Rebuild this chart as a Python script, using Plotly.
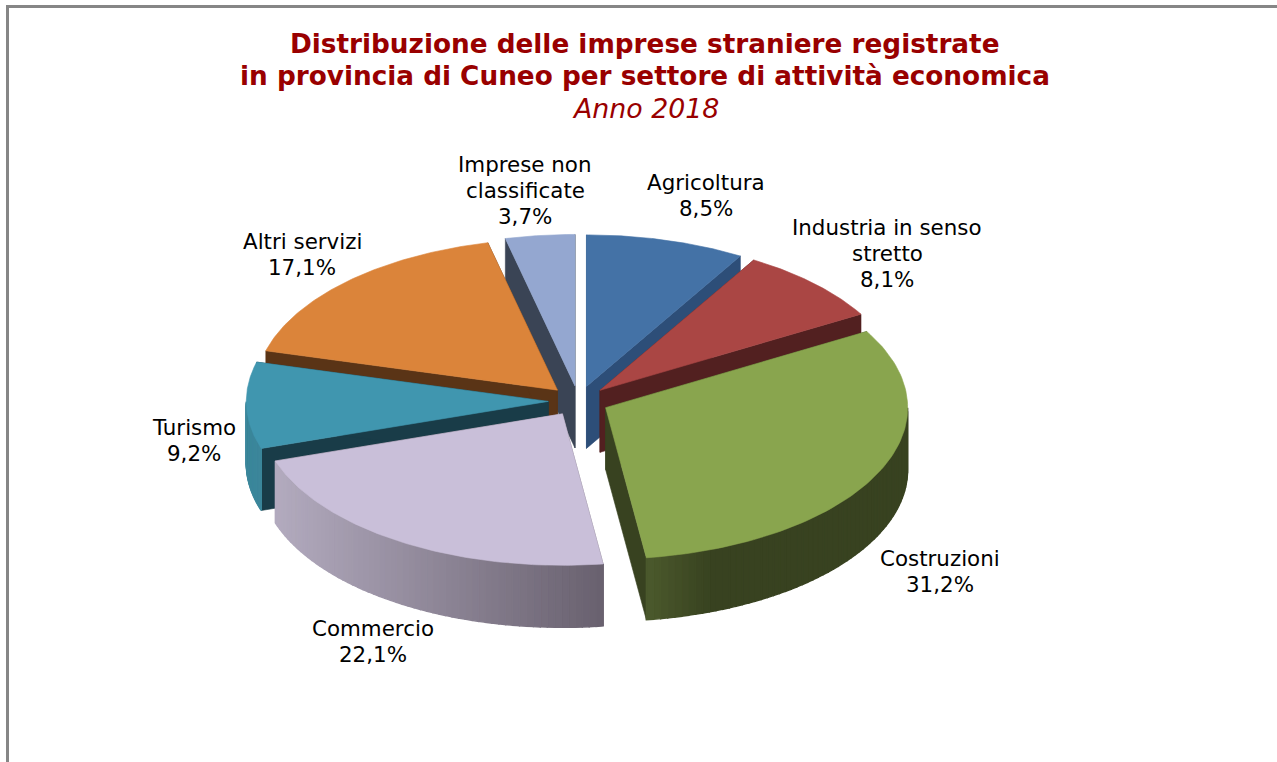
import numpy as np
import plotly.graph_objects as go

categories = ["Agricoltura", "Industria in senso stretto", "Costruzioni", "Commercio",
              "Turismo", "Altri servizi", "Imprese non classificate"]
values = [8.5, 8.1, 31.2, 22.1, 9.2, 17.1, 3.7]
top_colors = ["#4472A6", "#AA4644", "#89A54E", "#C9BFD9", "#4096AF", "#DB843A", "#94A7D0"]
wall_colors = ["#2D4E78", "#522020", "#384220", "#6E6672", "#193C48", "#5A3416", "#3A4455"]
rim_left = ["#2D4E78", "#522020", "#4C5A2D", "#B3ABBF", "#3C879B", "#5A3416", "#3A4455"]
rim_right = ["#2D4E78", "#522020", "#384220", "#69616F", "#3C879B", "#5A3416", "#3A4455"]
draw_order = [6, 0, 5, 1, 4, 2, 3]

CX, CY, A, B, DEPTH, EXPLODE = 578.5, 401, 302, 151.5, 62, 0.10

fractions = np.array(values) / sum(values)
edges = np.concatenate([[0], np.cumsum(fractions)]) * 2 * np.pi


def hex_rgb(h):
    return np.array([int(h[i:i + 2], 16) for i in (1, 3, 5)], dtype=float)


def poly(fig, xs, ys, color, name, width=0.6):
    fig.add_trace(go.Scatter(x=list(xs), y=list(ys), mode="lines", fill="toself",
                             fillcolor=color, line=dict(color=color, width=width),
                             hoverinfo="skip", name=name, showlegend=False))


fig = go.Figure()
for i in draw_order:
    t0, t1 = edges[i], edges[i + 1]
    mid = (t0 + t1) / 2
    ax = CX + EXPLODE * A * np.sin(mid)
    ay = CY - EXPLODE * B * np.cos(mid)
    th = np.linspace(t0, t1, 90)
    rx = ax + A * np.sin(th)
    ry = ay - B * np.cos(th)
    # radial walls
    for k in (0, -1):
        poly(fig, [ax, rx[k], rx[k], ax, ax], [ay, ry[k], ry[k] + DEPTH, ay + DEPTH, ay],
             wall_colors[i], categories[i])
    # outer wall, only where it faces the viewer
    lo, hi = max(t0, np.pi / 2), min(t1, 3 * np.pi / 2)
    if lo < hi:
        steps = 60
        tv = np.linspace(lo, hi, steps + 1)
        c_l, c_r = hex_rgb(rim_left[i]), hex_rgb(rim_right[i])
        px = ax + A * np.sin(tv)
        py = ay - B * np.cos(tv)
        xmin, xmax = px.min(), px.max()
        span = xmax - xmin
        for s in range(steps):
            u = ((px[s] + px[s + 1]) / 2 - xmin) / span
            if i == 2:  # the green wall fades quickly to its dark tone
                u = min(1.0, u * 4)
            c = c_l + (c_r - c_l) * u
            col = "rgb(%d,%d,%d)" % tuple(c)
            poly(fig, [px[s], px[s + 1], px[s + 1], px[s], px[s]],
                 [py[s], py[s + 1], py[s + 1] + DEPTH, py[s] + DEPTH, py[s]], col,
                 categories[i], width=1.4)
    # top face
    poly(fig, np.concatenate([[ax], rx, [ax]]), np.concatenate([[ay], ry, [ay]]),
         top_colors[i], categories[i])

label_lines = [["Agricoltura", "8,5%"], ["Industria in senso", "stretto", "8,1%"],
               ["Costruzioni", "31,2%"], ["Commercio", "22,1%"], ["Turismo", "9,2%"],
               ["Altri servizi", "17,1%"], ["Imprese non", "classificate", "3,7%"]]
label_x = [706, 887, 940, 373, 194, 302, 525]
label_y = [182, 227, 558, 628, 427, 241, 164]
LINE_STEP = 26
for lines, x, y in zip(label_lines, label_x, label_y):
    for n, t in enumerate(lines):
        fig.add_annotation(x=x, y=y + n * LINE_STEP, text=t, showarrow=False,
                           xanchor="center", yanchor="middle",
                           font=dict(family="DejaVu Sans", size=21.4, color="#000000"))

title_lines = ["<b>Distribuzione delle imprese straniere registrate</b>",
               "<b>in provincia di Cuneo per settore di attività economica</b>",
               "<i>Anno 2018</i>"]
title_y = [44, 76, 108]
title_size = [26.3, 26.3, 26.8]
for t, y, s in zip(title_lines, title_y, title_size):
    fig.add_annotation(x=645, y=y, text=t, showarrow=False, xanchor="center", yanchor="middle",
                       font=dict(family="DejaVu Sans", size=s, color="#990000"))

FRAME = "#868686"
fig.update_layout(
    margin=dict(l=0, r=0, t=0, b=0), paper_bgcolor="white", plot_bgcolor="white",
    showlegend=False,
    xaxis=dict(range=[0, 1277], visible=False, fixedrange=True),
    yaxis=dict(range=[762, 0], visible=False, fixedrange=True),
    shapes=[dict(type="line", x0=7.5, x1=7.5, y0=5, y1=762, line=dict(color=FRAME, width=3)),
            dict(type="line", x0=6, x1=1277, y0=6.5, y1=6.5, line=dict(color=FRAME, width=3))],
)
fig.write_html("out.html", config={"displayModeBar": False},
               post_script="document.body.style.margin='0';document.body.style.overflow='hidden';window.dispatchEvent(new Event('resize'));")
